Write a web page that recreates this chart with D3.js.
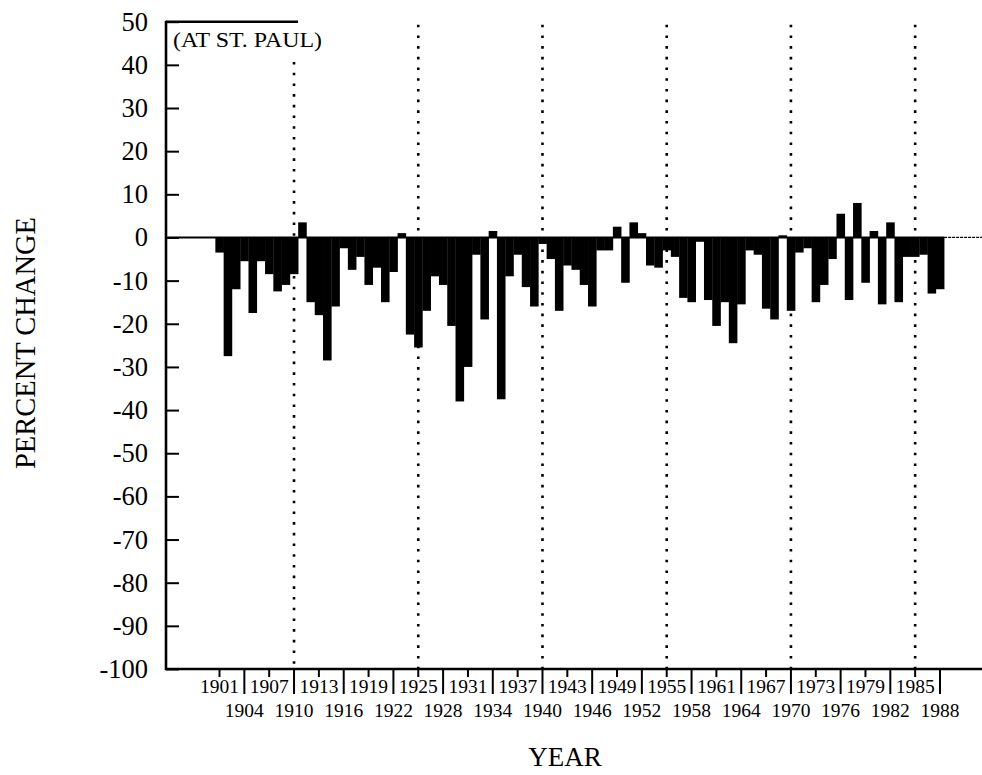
<!DOCTYPE html>
<html>
<head>
<meta charset="utf-8">
<script src="https://cdn.jsdelivr.net/npm/d3@7"></script>
<style>
  html, body { margin: 0; padding: 0; background: #fff; }
  svg { display: block; }
  text { font-family: "Liberation Serif", "Times New Roman", serif; fill: #000; }
</style>
</head>
<body>
<svg id="chart" width="982" height="775"></svg>
<script>
// ---------- data ----------
const years = [1901,1902,1903,1904,1905,1906,1907,1908,1909,1910,
  1911,1912,1913,1914,1915,1916,1917,1918,1919,1920,
  1921,1922,1923,1924,1925,1926,1927,1928,1929,1930,
  1931,1932,1933,1934,1935,1936,1937,1938,1939,1940,
  1941,1942,1943,1944,1945,1946,1947,1948,1949,1950,
  1951,1952,1953,1954,1955,1956,1957,1958,1959,1960,
  1961,1962,1963,1964,1965,1966,1967,1968,1969,1970,
  1971,1972,1973,1974,1975,1976,1977,1978,1979,1980,
  1981,1982,1983,1984,1985,1986,1987,1988];
const percentChange = [-3.5,-27.5,-12,-5.5,-17.5,-5.5,-8.5,-12.5,-11,-8.5,
  3.5,-15,-18,-28.5,-16,-2.5,-7.5,-4.5,-11,-7,
  -15,-8,1,-22.5,-25.5,-17,-9,-11,-20.5,-38,
  -30,-4,-19,1.5,-37.5,-9,-4,-11.5,-16,-1.5,
  -5,-17,-6.5,-7.5,-11,-16,-3,-3,2.5,-10.5,
  3.5,1,-6.5,-7,-3,-4.5,-14,-15,-1,-14.5,
  -20.5,-15,-24.5,-15.5,-3,-4,-16.5,-19,0.5,-17,
  -3.5,-2.5,-15,-11,-5,5.5,-14.5,8,-10.5,1.5,
  -15.5,3.5,-15,-4.5,-4.5,-4,-13,-12];
const tickLabelsTop = [1901,1907,1913,1919,1925,1931,1937,1943,1949,1955,1961,1967,1973,1979,1985];
const tickLabelsBottom = [1904,1910,1916,1922,1928,1934,1940,1946,1952,1958,1964,1970,1976,1982,1988];
const dividerYears = [1910,1925,1940,1955,1970,1985];
const yTicks = [50,40,30,20,10,0,-10,-20,-30,-40,-50,-60,-70,-80,-90,-100];
const yTitle = "PERCENT CHANGE";
const xTitle = "YEAR";
const note = "(AT ST. PAUL)";

// ---------- layout ----------
const svg = d3.select("#chart");
const axisX = 166;
const plotRight = 982;
const y = d3.scaleLinear().domain([-100, 50]).range([669, 21.7]);
const x = d3.scaleBand().domain(years).range([215.36, 944.14]).paddingInner(0).paddingOuter(0);
const cx = yr => x(yr) + x.bandwidth() / 2;

// divider dotted lines (behind bars)
const labelRight = 300;
svg.append("g").selectAll("line").data(dividerYears).join("line")
  .attr("x1", d => cx(d)).attr("x2", d => cx(d))
  .attr("y1", d => cx(d) < labelRight ? 62 : y(50) + 3)
  .attr("y2", y(-100))
  .attr("stroke", "#000").attr("stroke-width", 2.6)
  .attr("stroke-dasharray", "2.6,8.1");

// bars
svg.append("g").selectAll("rect").data(years).join("rect")
  .attr("x", d => x(d))
  .attr("width", x.bandwidth() + 0.3)
  .attr("y", (d, i) => y(Math.max(0, percentChange[i])))
  .attr("height", (d, i) => Math.abs(y(percentChange[i]) - y(0)))
  .attr("fill", "#000");

// zero line
svg.append("line").attr("x1", axisX).attr("x2", x(1988) + x.bandwidth())
  .attr("y1", y(0)).attr("y2", y(0)).attr("stroke", "#000").attr("stroke-width", 2);
svg.append("line").attr("x1", x(1988) + x.bandwidth()).attr("x2", plotRight)
  .attr("y1", y(0)).attr("y2", y(0)).attr("stroke", "#000").attr("stroke-width", 1.2)
  .attr("stroke-dasharray", "3,1");

// left axis
const yAxis = d3.axisRight(y).tickValues(yTicks).tickSize(13).tickFormat("");
const gy = svg.append("g").attr("transform", `translate(${axisX},0)`).call(yAxis);
gy.select(".domain").remove();
gy.selectAll(".tick line").attr("stroke-width", 2);
svg.append("line").attr("x1", axisX).attr("x2", axisX).attr("y1", y(50) - 1).attr("y2", y(-100) + 1)
  .attr("stroke", "#000").attr("stroke-width", 2.6);
svg.append("g").selectAll("text").data(yTicks).join("text")
  .attr("x", 148).attr("y", d => y(d)).attr("dy", "0.34em")
  .attr("text-anchor", "end").attr("font-size", 26.5)
  .text(d => String(d));

// top border (partial)
svg.append("line").attr("x1", axisX).attr("x2", 298).attr("y1", y(50)).attr("y2", y(50))
  .attr("stroke", "#000").attr("stroke-width", 2.4);

// bottom axis
svg.append("line").attr("x1", axisX - 1).attr("x2", plotRight).attr("y1", y(-100)).attr("y2", y(-100))
  .attr("stroke", "#000").attr("stroke-width", 2.4);
const gx = svg.append("g");
gx.selectAll("line.short").data(tickLabelsTop).join("line").attr("class", "short")
  .attr("x1", d => cx(d)).attr("x2", d => cx(d))
  .attr("y1", y(-100)).attr("y2", y(-100) + 8)
  .attr("stroke", "#000").attr("stroke-width", 2);
gx.selectAll("line.long").data(tickLabelsBottom).join("line").attr("class", "long")
  .attr("x1", d => cx(d)).attr("x2", d => cx(d))
  .attr("y1", y(-100)).attr("y2", 694)
  .attr("stroke", "#000").attr("stroke-width", 2);
gx.selectAll("text.top").data(tickLabelsTop).join("text").attr("class", "top")
  .attr("x", d => cx(d)).attr("y", 693)
  .attr("text-anchor", "middle").attr("font-size", 19.5)
  .text(d => d);
gx.selectAll("text.bottom").data(tickLabelsBottom).join("text").attr("class", "bottom")
  .attr("x", d => cx(d)).attr("y", 717)
  .attr("text-anchor", "middle").attr("font-size", 19.5)
  .text(d => d);

// note
svg.append("text").attr("x", 173).attr("y", 47).attr("font-size", 22)
  .attr("textLength", 149).attr("lengthAdjust", "spacingAndGlyphs").text(note);

// titles
svg.append("text").attr("x", 565).attr("y", 766).attr("text-anchor", "middle")
  .attr("font-size", 27).text(xTitle);
svg.append("text").attr("transform", "translate(35,343) rotate(-90)")
  .attr("text-anchor", "middle").attr("font-size", 28.5).text(yTitle);
</script>
</body>
</html>
